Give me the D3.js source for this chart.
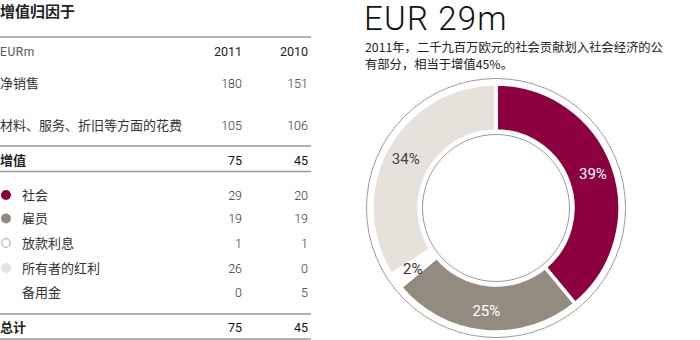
<!DOCTYPE html>
<html><head><meta charset="utf-8">
<script src="https://cdn.jsdelivr.net/npm/d3@7"></script>
<style>
html,body{margin:0;padding:0;background:#fff;}
svg{display:block;}
</style>
</head><body>
<svg id="c" width="700" height="340"></svg>
<script>
// ---- data ----
const tableTitle = "增值归因于";
const unitLabel = "EURm";
const years = ["2011", "2010"];
const rowLabels = ["净销售", "材料、服务、折旧等方面的花费", "增值", "社会", "雇员", "放款利息", "所有者的红利", "备用金", "总计"];
const values2011 = [180, 105, 75, 29, 19, 1, 26, 0, 75];
const values2010 = [151, 106, 45, 20, 19, 1, 0, 5, 45];
const headline = "EUR 29m";
const subtitleLines = ["2011年，二千九百万欧元的社会贡献划入社会经济的公", "有部分，相当于增值45%。"];
const pieCategories = ["社会", "雇员", "放款利息", "所有者的红利"];
const pieShares = [39, 25, 2, 34];

// ---- styles ----
const colors = {"社会": "#8c0040", "雇员": "#948b80", "放款利息": "#ffffff", "所有者的红利": "#e6e2db"};
const labelColors = {"社会": "#fff", "雇员": "#fff", "放款利息": "#333", "所有者的红利": "#444"};
const cjk = "'Noto Sans CJK SC', sans-serif";
const num = "Roboto, 'Noto Sans', sans-serif";

const svg = d3.select("#c");

// ---- table ----
const tbl = svg.append("g");
tbl.append("text").attr("x", 0).attr("y", 17).attr("font-family", cjk).attr("font-weight", 700)
  .attr("font-size", 15).attr("fill", "#222").text(tableTitle);

const rowY = [83, 125, 160, 195, 218.5, 243, 268, 292.5, 327];
const bold = new Set(["增值", "总计"]);
const colX = d3.scaleOrdinal().domain(years).range([242, 308]);

const lines = [37, 146, 171.5, 314, 339];
tbl.selectAll("line.rule").data(lines).join("line").attr("class", "rule")
  .attr("x1", 0).attr("x2", 311).attr("y1", d => d).attr("y2", d => d)
  .attr("stroke", "#9a9a9a").attr("stroke-width", 1.3);

tbl.append("text").attr("x", 0).attr("y", 55.5).attr("font-family", num).attr("font-size", 12)
  .attr("letter-spacing", 0.6).attr("fill", "#555").text(unitLabel);
tbl.selectAll("text.yr").data(years).join("text").attr("class", "yr")
  .attr("x", d => colX(d)).attr("y", 55.5).attr("text-anchor", "end")
  .attr("font-family", num).attr("font-size", 12.5).attr("fill", "#222").text(d => d);

const rows = rowLabels.map((l, i) => ({label: l, v: [values2011[i], values2010[i]], y: rowY[i]}));
const rg = tbl.selectAll("g.row").data(rows).join("g").attr("class", "row")
  .attr("transform", d => `translate(0,${d.y})`);
rg.append("text")
  .attr("x", d => pieCategories.includes(d.label) || d.label === "备用金" ? 22 : 0)
  .attr("y", 4.5)
  .attr("font-family", cjk).attr("font-size", 13)
  .attr("font-weight", d => bold.has(d.label) ? 700 : 400)
  .attr("fill", d => bold.has(d.label) ? "#222" : "#333")
  .text(d => d.label);
rg.each(function(d) {
  const g = d3.select(this);
  years.forEach((yr, j) => {
    g.append("text").attr("x", colX(yr)).attr("y", 4.5).attr("text-anchor", "end")
      .attr("font-family", num).attr("font-size", 12.5)
      .attr("font-weight", bold.has(d.label) ? 400 : 300)
      .attr("fill", bold.has(d.label) ? "#111" : "#333")
      .text(d.v[j]);
  });
  if (pieCategories.includes(d.label)) {
    g.append("circle").attr("cx", 6).attr("cy", 0).attr("r", d.label === "放款利息" ? 4.3 : 5)
      .attr("fill", colors[d.label])
      .attr("stroke", d.label === "放款利息" ? "#999" : "none").attr("stroke-width", 0.9);
  }
});

// ---- headline ----
svg.append("text").attr("x", 364).attr("y", 30).attr("font-family", num).attr("font-weight", 300)
  .attr("font-size", 33).attr("letter-spacing", 1.2).attr("fill", "#111").text(headline);
svg.selectAll("text.sub").data(subtitleLines).join("text").attr("class", "sub")
  .attr("x", 365).attr("y", (d, i) => 52 + i * 16.5)
  .attr("font-family", cjk).attr("font-size", 12.3).attr("fill", "#222").text(d => d);

// ---- donut ----
const cx = 496, cy = 208;
const dg = svg.append("g").attr("transform", `translate(${cx},${cy})`);
dg.append("circle").attr("r", 129.5).attr("fill", "none").attr("stroke", "#9a9a9a").attr("stroke-width", 1);
dg.append("circle").attr("r", 73.5).attr("fill", "none").attr("stroke", "#9a9a9a").attr("stroke-width", 1);

const pie = d3.pie().sort(null).value(d => d.v);
const pdata = pie(pieCategories.map((c, i) => ({c, v: pieShares[i]})));
const arc = d3.arc().innerRadius(77).outerRadius(124);
dg.selectAll("path.seg").data(pdata).join("path").attr("class", "seg")
  .attr("d", arc).attr("fill", d => colors[d.data.c])
  .attr("stroke", "#fff").attr("stroke-width", 3.5).attr("stroke-linejoin", "miter");

const larc = d3.arc().innerRadius(103).outerRadius(103);
dg.selectAll("text.pl").data(pdata).join("text").attr("class", "pl")
  .attr("transform", d => `translate(${larc.centroid(d)})`)
  .attr("text-anchor", "middle").attr("dy", "0.36em")
  .attr("font-family", num).attr("font-size", 15).attr("fill", d => labelColors[d.data.c])
  .text(d => d.data.v + "%");
</script>
</body></html>
